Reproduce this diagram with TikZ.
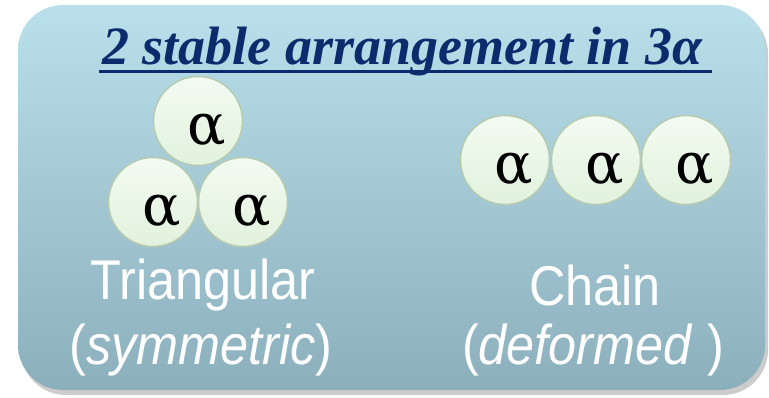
\documentclass[tikz,border=0pt]{standalone}
\usepackage{fontspec}
\setmainfont{Liberation Serif}
\setsansfont{Liberation Sans}
\newfontfamily\alphafont{DejaVu Serif}
\definecolor{boxtop}{HTML}{B9E0EB}
\definecolor{boxbot}{HTML}{8CAFBC}
\definecolor{titleblue}{HTML}{0C2B6C}
\definecolor{balltop}{HTML}{F3FBF1}
\definecolor{ballbot}{HTML}{E1F2DD}
\definecolor{balledge}{HTML}{B7CBB0}
\begin{document}
\begin{tikzpicture}[x=1pt, y=-1pt,
    ball/.style={circle, minimum size=89pt, inner sep=0pt, draw=balledge, line width=1.5pt,
      top color=balltop, bottom color=ballbot},
    alp/.style={font=\alphafont\fontsize{57}{57}\selectfont, inner sep=0pt},
    caption/.style={text=white, align=center, inner sep=0pt,
      font=\sffamily\fontsize{56}{62}\selectfont}]
    \useasboundingbox (0,0) rectangle (769,398);

    % Rahmen mit Schatten
    \fill[black!20, rounded corners=45pt] (21,9) rectangle (768,395);
    \shade[top color=boxtop, bottom color=boxbot, rounded corners=45pt] (18,5) rectangle (765,390);

    % Titel
    \node[text=titleblue, inner sep=0pt, anchor=base, font=\bfseries\itshape\fontsize{54}{54}\selectfont]
      (title) at (402,65) {2 stable arrangement in 3α};
    \draw[titleblue, line width=3pt] ([shift={(-3pt,-7pt)}]title.base west) -- ([shift={(10pt,-7pt)}]title.base east);

    % Dreieck
    \node[ball] (t1) at (198,121) {};
    \node[ball] (t2) at (153,202) {};
    \node[ball] (t3) at (243,202) {};

    % Kette
    \node[ball] (c1) at (505,160) {};
    \node[ball] (c2) at (596,160) {};
    \node[ball] (c3) at (686,160) {};

    \foreach \b in {t1,t2,t3,c1,c2,c3}
      \node[alp] (a-\b) at ([shift={(9,9)}]\b) {α};

    % Beschriftung
    \node[caption] (tri) at (203,285) {\scalebox{0.9}[1]{Triangular}};
    \node[caption] (trisym) at (201,350) {\scalebox{0.9}[1]{(\textit{symmetric})}};
    \node[caption] (chain) at (595,285) {\scalebox{0.9}[1]{Chain}};
    \node[caption] (chaindef) at (593,350) {\scalebox{0.9}[1]{(\textit{deformed} )}};
\end{tikzpicture}
\end{document}
